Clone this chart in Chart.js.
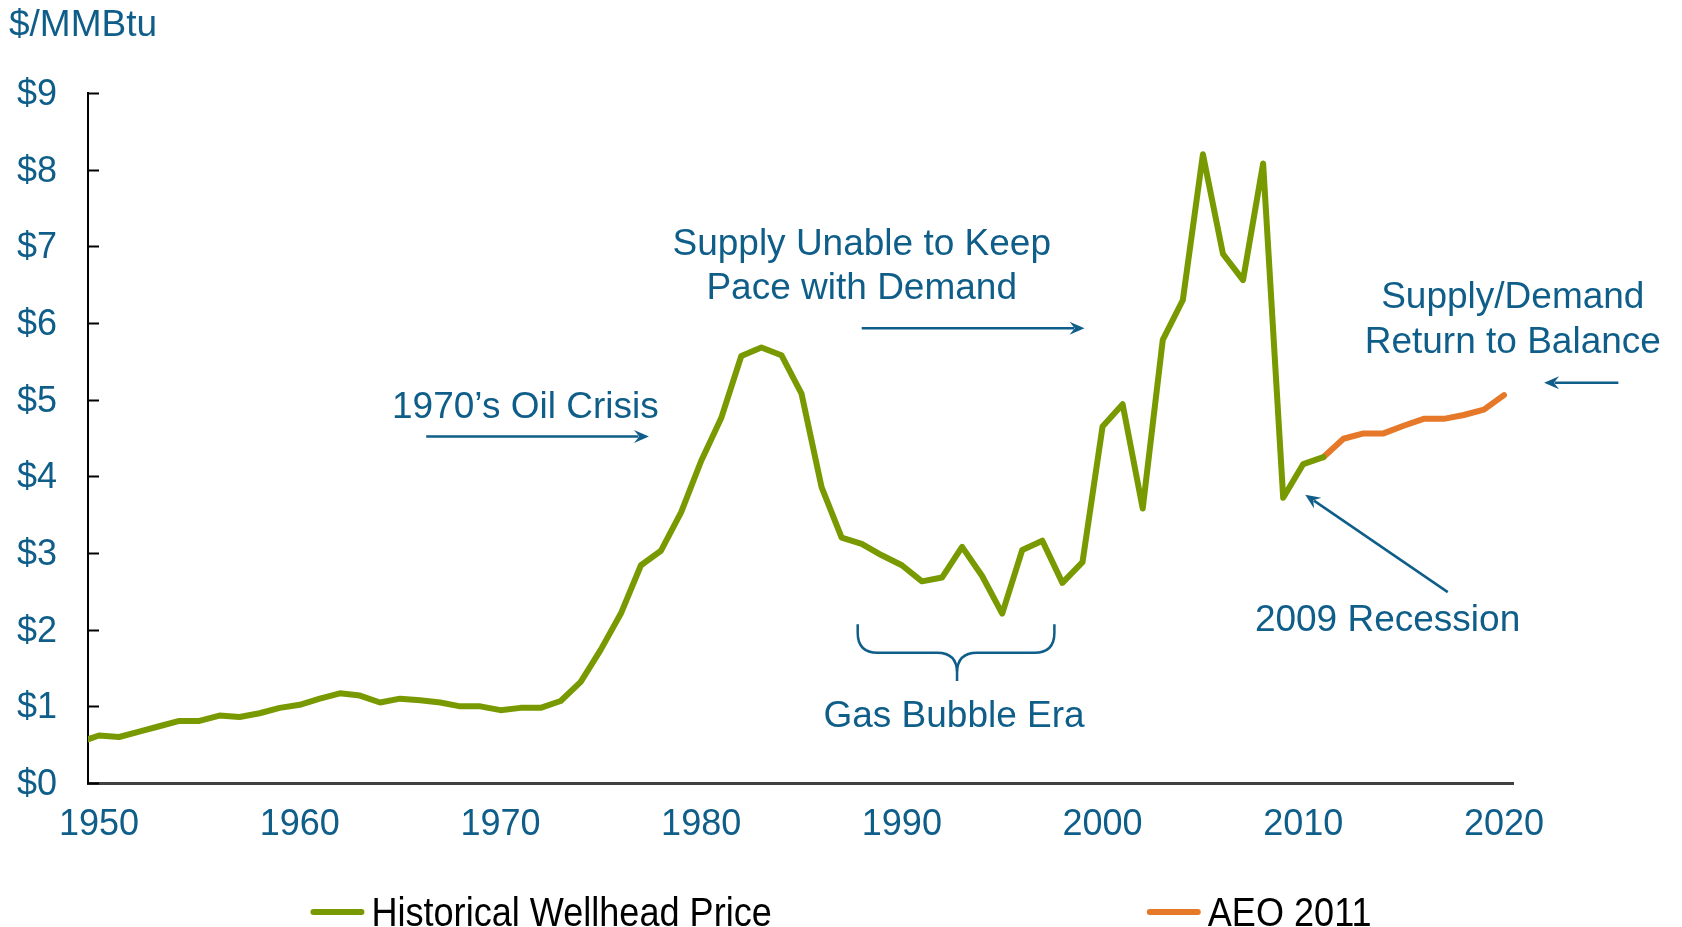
<!DOCTYPE html>
<html>
<head>
<meta charset="utf-8">
<script src="https://cdn.jsdelivr.net/npm/chart.js@4.4.1/dist/chart.umd.min.js"></script>
<style>
  html, body { margin: 0; padding: 0; background: #fff; }
  #wrap { width: 1682px; height: 927px; }
</style>
</head>
<body>
<div id="wrap"><canvas id="priceChart" width="1682" height="927"></canvas></div>
<script>
// historical wellhead price, $/MMBtu (1949 point only shows as the stub at the axis)
const histYears = [];
for (let y = 1949; y <= 2011; y++) histYears.push(y);
const histPrices = [
  0.53,
  0.62, 0.60, 0.67, 0.74, 0.81, 0.81, 0.88, 0.86, 0.91, 0.98, // 1950s
  1.02, 1.10, 1.17, 1.14, 1.05, 1.10, 1.08, 1.05, 1.00, 1.00, // 1960s
  0.95, 0.98, 0.98, 1.07, 1.32, 1.74, 2.21, 2.84, 3.03, 3.53, // 1970s
  4.20, 4.76, 5.57, 5.68, 5.58, 5.08, 3.86, 3.20, 3.12, 2.97, // 1980s
  2.84, 2.63, 2.68, 3.08, 2.70, 2.21, 3.04, 3.16, 2.61, 2.88, // 1990s
  4.65, 4.94, 3.58, 5.78, 6.30, 8.20, 6.90, 6.56, 8.08, 3.72, // 2000s
  4.16, 4.25
];

// AEO 2011 projection
const aeoYears = [2011, 2012, 2013, 2014, 2015, 2016, 2017, 2018, 2019, 2020];
const aeoPrices = [4.25, 4.49, 4.56, 4.56, 4.66, 4.75, 4.75, 4.80, 4.87, 5.06];

const xTickYears = [1950, 1960, 1970, 1980, 1990, 2000, 2010, 2020];
const yTickValues = [0, 1, 2, 3, 4, 5, 6, 7, 8, 9];

const fontFamily = '"Liberation Sans", Arial, Helvetica, sans-serif';
const textBlue = '#0F5E89';

// annotation anchors, in data units (year, $)
const notes = [
  { text: '1970\u2019s Oil Crisis', x: 1971.24, y: 4.92 },
  { text: 'Supply Unable to Keep', x: 1988.0, y: 7.05 },
  { text: 'Pace with Demand', x: 1988.0, y: 6.47 },
  { text: 'Supply/Demand', x: 2020.44, y: 6.35 },
  { text: 'Return to Balance', x: 2020.44, y: 5.77 },
  { text: '2009 Recession', x: 2014.2, y: 2.14 },
  { text: 'Gas Bubble Era', x: 1992.6, y: 0.89 }
];
const arrows = [
  { from: [1966.3, 4.52], to: [1977.4, 4.52] },
  { from: [1988.0, 5.93], to: [1999.1, 5.93] },
  { from: [2025.7, 5.22], to: [2022.0, 5.22] },
  { from: [2017.2, 2.49], to: [2010.1, 3.76] }
];
const brace = { left: 1987.8, right: 1997.6, mid: 1992.75, top: 2.07, bar: 1.70, tip: 1.33 };

function drawArrow(ctx, x1, y1, x2, y2) {
  const a = Math.atan2(y2 - y1, x2 - x1);
  const c = Math.cos(a), s = Math.sin(a);
  const len = 15, half = 6.5;
  ctx.beginPath();
  ctx.moveTo(x1, y1);
  ctx.lineTo(x2 - len * 0.7 * c, y2 - len * 0.7 * s);
  ctx.stroke();
  ctx.beginPath();
  ctx.moveTo(x2, y2);
  ctx.lineTo(x2 - len * c - half * s, y2 - len * s + half * c);
  ctx.lineTo(x2 - len * 0.65 * c, y2 - len * 0.65 * s);
  ctx.lineTo(x2 - len * c + half * s, y2 - len * s - half * c);
  ctx.closePath();
  ctx.fill();
}

const decorPlugin = {
  id: 'decor',
  afterDraw(chart) {
    const ctx = chart.ctx;
    const xs = chart.scales.x, ys = chart.scales.y;
    const area = chart.chartArea;
    ctx.save();

    // inward tick marks on the value axis
    ctx.strokeStyle = '#000';
    ctx.lineWidth = 2;
    yTickValues.forEach(v => {
      const py = Math.round(ys.getPixelForValue(v)) + 0.5;
      ctx.beginPath();
      ctx.moveTo(area.left - 1, py);
      ctx.lineTo(area.left + 11, py);
      ctx.stroke();
    });

    // unit label
    ctx.fillStyle = textBlue;
    ctx.font = '37px ' + fontFamily;
    ctx.textAlign = 'left';
    ctx.textBaseline = 'middle';
    ctx.fillText('$/MMBtu', 9, 26);

    // notes
    ctx.textAlign = 'center';
    notes.forEach(n => {
      ctx.fillText(n.text, xs.getPixelForValue(n.x), ys.getPixelForValue(n.y) + 2);
    });

    // arrows
    ctx.strokeStyle = textBlue;
    ctx.fillStyle = textBlue;
    ctx.lineWidth = 2.5;
    arrows.forEach(a => {
      drawArrow(ctx,
        xs.getPixelForValue(a.from[0]), ys.getPixelForValue(a.from[1]),
        xs.getPixelForValue(a.to[0]), ys.getPixelForValue(a.to[1]));
    });

    // curly brace under the gas bubble
    const bl = xs.getPixelForValue(brace.left), br = xs.getPixelForValue(brace.right);
    const bm = xs.getPixelForValue(brace.mid);
    const bt = ys.getPixelForValue(brace.top), bb = ys.getPixelForValue(brace.bar);
    const tip = ys.getPixelForValue(brace.tip);
    const r = 20;
    ctx.beginPath();
    ctx.moveTo(bl, bt);
    ctx.lineTo(bl, bb - r);
    ctx.quadraticCurveTo(bl, bb, bl + r, bb);
    ctx.lineTo(bm - r, bb);
    ctx.quadraticCurveTo(bm, bb, bm, bb + r);
    ctx.lineTo(bm, tip);
    ctx.moveTo(br, bt);
    ctx.lineTo(br, bb - r);
    ctx.quadraticCurveTo(br, bb, br - r, bb);
    ctx.lineTo(bm + r, bb);
    ctx.quadraticCurveTo(bm, bb, bm, bb + r);
    ctx.stroke();

    // legend, spread across the bottom
    const items = chart.data.datasets;
    const gapItems = 375, sample = 54, gapText = 7, sx = 0.88;
    ctx.font = '41px ' + fontFamily;
    const widths = items.map(d => sample + gapText + ctx.measureText(d.label).width * sx);
    let total = widths.reduce((a, b) => a + b, 0) + gapItems * (items.length - 1);
    let lx = (chart.width - total) / 2;
    const ly = 912;
    items.forEach((d, i) => {
      ctx.strokeStyle = d.borderColor;
      ctx.lineWidth = 6;
      ctx.lineCap = 'round';
      ctx.beginPath();
      ctx.moveTo(lx + 3, ly);
      ctx.lineTo(lx + sample - 3, ly);
      ctx.stroke();
      ctx.save();
      ctx.translate(lx + sample + gapText, ly + 3);
      ctx.scale(sx, 1);
      ctx.fillStyle = '#000';
      ctx.textAlign = 'left';
      ctx.textBaseline = 'middle';
      ctx.fillText(d.label, 0, 0);
      ctx.restore();
      lx += widths[i] + gapItems;
    });

    ctx.restore();
  }
};

new Chart(document.getElementById('priceChart'), {
  type: 'line',
  data: {
    datasets: [
      {
        label: 'Historical Wellhead Price',
        data: histYears.map((y, i) => ({ x: y, y: histPrices[i] })),
        borderColor: '#789A00',
        borderWidth: 6,
        pointRadius: 0,
        tension: 0,
        borderJoinStyle: 'round',
        borderCapStyle: 'round',
        clip: 0
      },
      {
        label: 'AEO 2011',
        data: aeoYears.map((y, i) => ({ x: y, y: aeoPrices[i] })),
        borderColor: '#E6782A',
        borderWidth: 6,
        pointRadius: 0,
        tension: 0,
        borderJoinStyle: 'round',
        borderCapStyle: 'round'
      }
    ]
  },
  options: {
    responsive: false,
    animation: false,
    layout: { padding: { top: 93, right: 169, bottom: 0, left: 0 } },
    plugins: {
      legend: { display: false },
      tooltip: { enabled: false }
    },
    scales: {
      x: {
        type: 'linear',
        min: 1949.45,
        max: 2020.45,
        afterBuildTicks: s => { s.ticks = xTickYears.map(v => ({ value: v })); },
        afterFit: s => { s.height = 144; },
        ticks: {
          callback: v => String(v),
          color: textBlue,
          font: { family: fontFamily, size: 36 },
          padding: 20,
          maxRotation: 0,
          autoSkip: false
        },
        grid: { display: false, drawTicks: false },
        border: { display: true, color: '#404040', width: 3 }
      },
      y: {
        min: 0,
        max: 9,
        afterBuildTicks: s => { s.ticks = yTickValues.map(v => ({ value: v })); },
        afterFit: s => { s.width = 88; },
        ticks: {
          callback: v => '$' + v,
          color: textBlue,
          font: { family: fontFamily, size: 36 },
          padding: 31,
          labelOffset: 2
        },
        grid: { display: false, drawTicks: false },
        border: { display: true, color: '#000', width: 2 }
      }
    }
  },
  plugins: [decorPlugin]
});
</script>
</body>
</html>
